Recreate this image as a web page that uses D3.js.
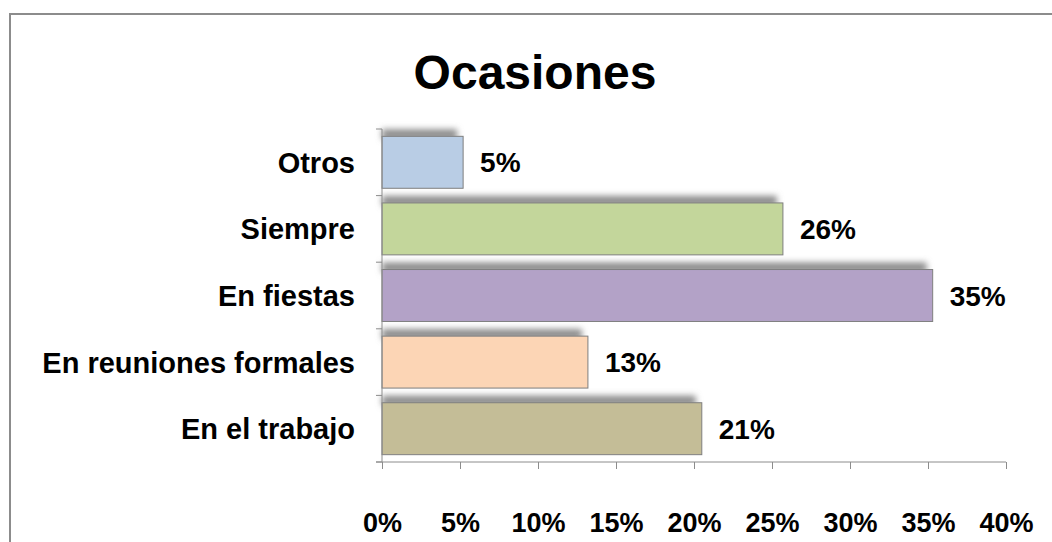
<!DOCTYPE html>
<html>
<head>
<meta charset="utf-8">
<script src="https://cdn.jsdelivr.net/npm/d3@7"></script>
<style>
    body { margin: 0; background: #fff; }
    svg { display: block; font-family: Arial, "Liberation Sans", sans-serif; }
</style>
</head>
<body>
<div id="chart"></div>
<script>
// chart data
const categories = ["Otros", "Siempre", "En fiestas", "En reuniones formales", "En el trabajo"];
const values = [5.2, 25.7, 35.3, 13.2, 20.5];
const valueLabels = ["5%", "26%", "35%", "13%", "21%"];
const colors = ["#b9cde5", "#c3d69b", "#b3a2c7", "#fcd5b5", "#c4bd97"];
const xTicks = [0, 5, 10, 15, 20, 25, 30, 35, 40];

const width = 1052, height = 542;
const margin = { left: 382, right: 46, top: 129, bottom: 80 };

let svg = d3.select("#chart").append("svg")
    .attr("width", width)
    .attr("height", height);

// outer frame of the chart area
svg.append("rect")
    .attr("x", 10)
    .attr("y", 14)
    .attr("width", 1060)
    .attr("height", 560)
    .attr("fill", "none")
    .attr("stroke", "#8c8c8c")
    .attr("stroke-width", 2);

let defs = svg.append("defs");
defs.append("filter")
    .attr("id", "shade")
    .attr("x", "-10%").attr("y", "-100%")
    .attr("width", "120%").attr("height", "300%")
    .append("feGaussianBlur")
    .attr("stdDeviation", 3);

let x = d3.scaleLinear()
    .domain([0, 40])
    .range([margin.left, width - margin.right]);

let y = d3.scaleBand()
    .domain(categories)
    .range([margin.top, height - margin.bottom])
    .paddingInner(0.22)
    .paddingOuter(0.11);

let step = y.step();

// title
svg.append("text")
    .attr("x", 535)
    .attr("y", 89)
    .attr("text-anchor", "middle")
    .attr("font-size", 48)
    .attr("font-weight", "bold")
    .text("Ocasiones");

// shadows above each bar
svg.selectAll(".shade")
    .data(categories)
    .enter().append("rect")
    .attr("class", "shade")
    .attr("x", margin.left)
    .attr("y", d => y(d) - 7)
    .attr("width", (d, i) => Math.max(0, x(values[i]) - margin.left - 6))
    .attr("height", 10)
    .attr("fill", "#8a8a8a")
    .attr("filter", "url(#shade)");

// bars
svg.selectAll(".bar")
    .data(categories)
    .enter().append("rect")
    .attr("class", "bar")
    .attr("x", margin.left)
    .attr("y", d => y(d))
    .attr("width", (d, i) => x(values[i]) - margin.left)
    .attr("height", y.bandwidth())
    .attr("fill", (d, i) => colors[i])
    .attr("stroke", "#7f7f7f")
    .attr("stroke-width", 1);

// value labels
svg.selectAll(".value")
    .data(categories)
    .enter().append("text")
    .attr("class", "value")
    .attr("x", (d, i) => x(values[i]) + 17)
    .attr("y", d => y(d) + y.bandwidth() / 2)
    .attr("dy", "0.36em")
    .attr("font-size", 28)
    .attr("font-weight", "bold")
    .text((d, i) => valueLabels[i]);

// category axis
let yAxisG = svg.append("g");
yAxisG.append("line")
    .attr("x1", margin.left).attr("x2", margin.left)
    .attr("y1", margin.top).attr("y2", height - margin.bottom)
    .attr("stroke", "#8c8c8c");
yAxisG.selectAll(".ytick")
    .data(d3.range(categories.length + 1))
    .enter().append("line")
    .attr("class", "ytick")
    .attr("x1", margin.left - 6).attr("x2", margin.left)
    .attr("y1", i => margin.top + i * step)
    .attr("y2", i => margin.top + i * step)
    .attr("stroke", "#8c8c8c");
yAxisG.selectAll(".ylabel")
    .data(categories)
    .enter().append("text")
    .attr("class", "ylabel")
    .attr("x", 355)
    .attr("y", d => y(d) + y.bandwidth() / 2)
    .attr("dy", "0.36em")
    .attr("text-anchor", "end")
    .attr("font-size", 29)
    .attr("font-weight", "bold")
    .text(d => d);

// value axis
let xAxis = d3.axisBottom(x)
    .tickValues(xTicks)
    .tickSize(7)
    .tickPadding(44)
    .tickFormat(d => d + "%");

let xAxisG = svg.append("g")
    .attr("transform", `translate(0,${height - margin.bottom})`)
    .call(xAxis);
xAxisG.select(".domain")
    .attr("d", `M${margin.left - 6},0H${width - margin.right}`)
    .attr("stroke", "#8c8c8c");
xAxisG.selectAll(".tick line").attr("stroke", "#8c8c8c");
xAxisG.selectAll(".tick text")
    .attr("font-size", 27)
    .attr("font-weight", "bold")
    .attr("fill", "#000")
    .attr("font-family", "Arial, 'Liberation Sans', sans-serif");
</script>
</body>
</html>
